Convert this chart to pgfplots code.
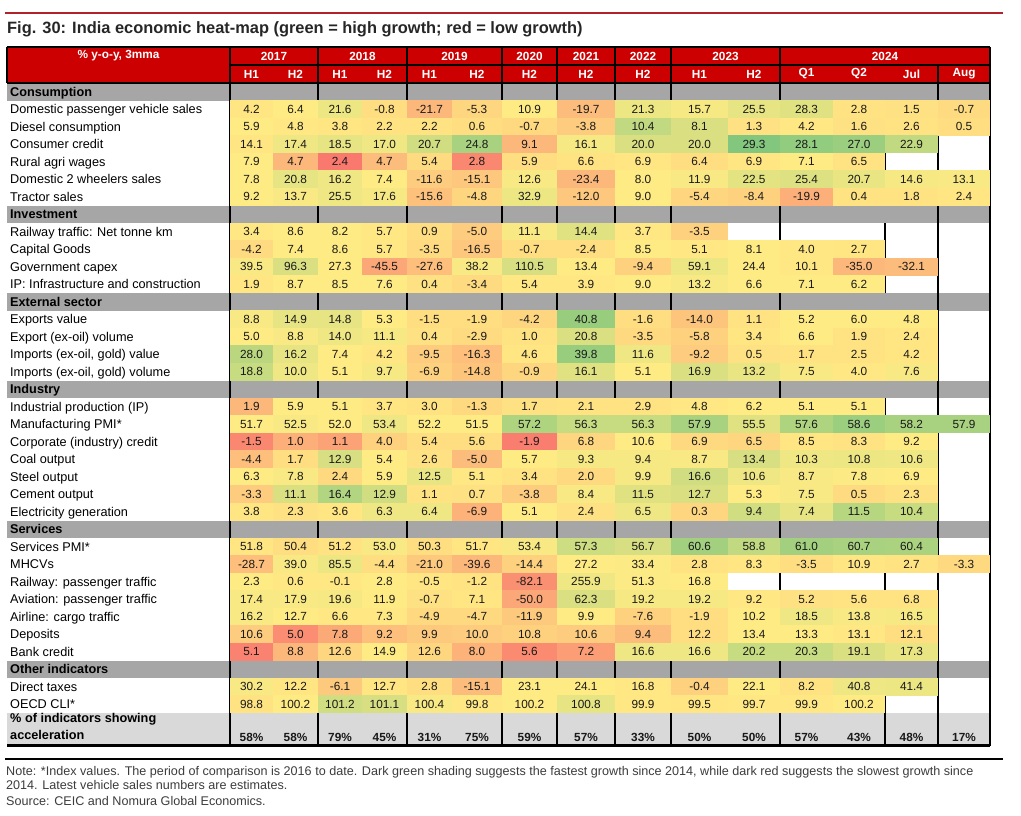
\documentclass[border=0pt]{standalone}
\usepackage{pgfplots}
\pgfplotsset{compat=1.18}
\usepackage{pgfplotstable}
\usepackage{fontspec}
\setmainfont{Liberation Sans}
\definecolor{hdrred}{RGB}{204,0,0}
\definecolor{band}{RGB}{166,166,166}
\definecolor{accgray}{RGB}{217,217,217}
\definecolor{rulered}{RGB}{178,34,44}
\definecolor{numtxt}{RGB}{25,25,25}
\definecolor{titlegray}{RGB}{38,38,38}
\definecolor{notegray}{RGB}{60,60,60}
\pgfdeclareplotmark{cell}{%
  \pgfsetfillcolor{mapped color}%
  \pgfpathrectangle{\pgfpoint{-\hw pt-0.3pt}{-9.05pt}}{\pgfpoint{2*\hw pt+0.6pt}{18.1pt}}%
  \pgfusepathqfill}
\newcommand{\numfont}{\fontsize{11.8}{14}\selectfont}

% x = column centre (px), y = row centre (px), w = half cell width, c = colour (0 red, .5 yellow, 1 green), v = value
\pgfplotstableread{
x y w c v
251.5 109.25 21.5 .48 4.2
295.5 109.25 22.5 .50 6.4
340 109.25 22 .56 21.6
384.5 109.25 22.5 .45 -0.8
429.5 109.25 22.5 .30 -21.7
477 109.25 25 .42 -5.3
529.5 109.25 27.5 .50 10.9
586 109.25 29 .32 -19.7
643 109.25 28 .56 21.3
699.5 109.25 28.5 .53 15.7
754 109.25 26 .58 25.5
806.5 109.25 26.5 .60 28.3
859 109.25 26 .47 2.8
911.5 109.25 26.5 .46 1.5
964 109.25 26 .44 -0.7
251.5 126.75 21.5 .50 5.9
295.5 126.75 22.5 .49 4.8
340 126.75 22 .48 3.8
384.5 126.75 22.5 .47 2.2
429.5 126.75 22.5 .47 2.2
477 126.75 25 .45 0.6
529.5 126.75 27.5 .43 -0.7
586 126.75 29 .38 -3.8
643 126.75 28 .70 10.4
699.5 126.75 28.5 .62 8.1
754 126.75 26 .46 1.3
806.5 126.75 26.5 .49 4.2
859 126.75 26 .46 1.6
911.5 126.75 26.5 .47 2.6
964 126.75 26 .45 0.5
251.5 144.25 21.5 .48 14.1
295.5 144.25 22.5 .55 17.4
340 144.25 22 .58 18.5
384.5 144.25 22.5 .55 17.0
429.5 144.25 22.5 .65 20.7
477 144.25 25 .78 24.8
529.5 144.25 27.5 .30 9.1
586 144.25 29 .53 16.1
643 144.25 28 .62 20.0
699.5 144.25 28.5 .62 20.0
754 144.25 26 .90 29.3
806.5 144.25 26.5 .85 28.1
859 144.25 26 .82 27.0
911.5 144.25 26.5 .70 22.9
251.5 161.75 21.5 .50 7.9
295.5 161.75 22.5 .30 4.7
340 161.75 22 .06 2.4
384.5 161.75 22.5 .32 4.7
429.5 161.75 22.5 .44 5.4
477 161.75 25 .12 2.8
529.5 161.75 27.5 .45 5.9
586 161.75 29 .47 6.6
643 161.75 28 .48 6.9
699.5 161.75 28.5 .45 6.4
754 161.75 26 .48 6.9
806.5 161.75 26.5 .50 7.1
859 161.75 26 .47 6.5
251.5 179.25 21.5 .50 7.8
295.5 179.25 22.5 .58 20.8
340 179.25 22 .55 16.2
384.5 179.25 22.5 .50 7.4
429.5 179.25 22.5 .38 -11.6
477 179.25 25 .36 -15.1
529.5 179.25 27.5 .52 12.6
586 179.25 29 .30 -23.4
643 179.25 28 .50 8.0
699.5 179.25 28.5 .52 11.9
754 179.25 26 .59 22.5
806.5 179.25 26.5 .61 25.4
859 179.25 26 .57 20.7
911.5 179.25 26.5 .53 14.6
964 179.25 26 .52 13.1
251.5 196.75 21.5 .50 9.2
295.5 196.75 22.5 .52 13.7
340 196.75 22 .55 25.5
384.5 196.75 22.5 .53 17.6
429.5 196.75 22.5 .34 -15.6
477 196.75 25 .42 -4.8
529.5 196.75 27.5 .56 32.9
586 196.75 29 .36 -12.0
643 196.75 28 .50 9.0
699.5 196.75 28.5 .42 -5.4
754 196.75 26 .40 -8.4
806.5 196.75 26.5 .27 -19.9
859 196.75 26 .47 0.4
911.5 196.75 26.5 .47 1.8
964 196.75 26 .48 2.4
251.5 231.75 21.5 .49 3.4
295.5 231.75 22.5 .50 8.6
340 231.75 22 .50 8.2
384.5 231.75 22.5 .49 5.7
429.5 231.75 22.5 .45 0.9
477 231.75 25 .38 -5.0
529.5 231.75 27.5 .52 11.1
586 231.75 29 .60 14.4
643 231.75 28 .49 3.7
699.5 231.75 28.5 .40 -3.5
251.5 249.25 21.5 .44 -4.2
295.5 249.25 22.5 .50 7.4
340 249.25 22 .50 8.6
384.5 249.25 22.5 .49 5.7
429.5 249.25 22.5 .44 -3.5
477 249.25 25 .36 -16.5
529.5 249.25 27.5 .45 -0.7
586 249.25 29 .45 -2.4
643 249.25 28 .50 8.5
699.5 249.25 28.5 .49 5.1
754 249.25 26 .50 8.1
806.5 249.25 26.5 .49 4.0
859 249.25 26 .48 2.7
251.5 266.75 21.5 .52 39.5
295.5 266.75 22.5 .62 96.3
340 266.75 22 .50 27.3
384.5 266.75 22.5 .24 -45.5
429.5 266.75 22.5 .33 -27.6
477 266.75 25 .52 38.2
529.5 266.75 27.5 .63 110.5
586 266.75 29 .50 13.4
643 266.75 28 .40 -9.4
699.5 266.75 28.5 .56 59.1
754 266.75 26 .50 24.4
806.5 266.75 26.5 .49 10.1
859 266.75 26 .30 -35.0
911.5 266.75 26.5 .32 -32.1
251.5 284.25 21.5 .48 1.9
295.5 284.25 22.5 .50 8.7
340 284.25 22 .50 8.5
384.5 284.25 22.5 .50 7.6
429.5 284.25 22.5 .46 0.4
477 284.25 25 .44 -3.4
529.5 284.25 27.5 .49 5.4
586 284.25 29 .49 3.9
643 284.25 28 .50 9.0
699.5 284.25 28.5 .52 13.2
754 284.25 26 .50 6.6
806.5 284.25 26.5 .50 7.1
859 284.25 26 .50 6.2
251.5 319.25 21.5 .52 8.8
295.5 319.25 22.5 .58 14.9
340 319.25 22 .58 14.8
384.5 319.25 22.5 .50 5.3
429.5 319.25 22.5 .45 -1.5
477 319.25 25 .45 -1.9
529.5 319.25 27.5 .42 -4.2
586 319.25 29 .83 40.8
643 319.25 28 .45 -1.6
699.5 319.25 28.5 .35 -14.0
754 319.25 26 .47 1.1
806.5 319.25 26.5 .50 5.2
859 319.25 26 .50 6.0
911.5 319.25 26.5 .50 4.8
251.5 336.75 21.5 .50 5.0
295.5 336.75 22.5 .52 8.8
340 336.75 22 .55 14.0
384.5 336.75 22.5 .53 11.1
429.5 336.75 22.5 .46 0.4
477 336.75 25 .44 -2.9
529.5 336.75 27.5 .47 1.0
586 336.75 29 .62 20.8
643 336.75 28 .43 -3.5
699.5 336.75 28.5 .40 -5.8
754 336.75 26 .48 3.4
806.5 336.75 26.5 .50 6.6
859 336.75 26 .47 1.9
911.5 336.75 26.5 .48 2.4
251.5 354.25 21.5 .72 28.0
295.5 354.25 22.5 .58 16.2
340 354.25 22 .50 7.4
384.5 354.25 22.5 .48 4.2
429.5 354.25 22.5 .38 -9.5
477 354.25 25 .33 -16.3
529.5 354.25 27.5 .48 4.6
586 354.25 29 .83 39.8
643 354.25 28 .55 11.6
699.5 354.25 28.5 .38 -9.2
754 354.25 26 .46 0.5
806.5 354.25 26.5 .47 1.7
859 354.25 26 .47 2.5
911.5 354.25 26.5 .48 4.2
251.5 371.75 21.5 .68 18.8
295.5 371.75 22.5 .55 10.0
340 371.75 22 .50 5.1
384.5 371.75 22.5 .53 9.7
429.5 371.75 22.5 .40 -6.9
477 371.75 25 .35 -14.8
529.5 371.75 27.5 .42 -0.9
586 371.75 29 .60 16.1
643 371.75 28 .50 5.1
699.5 371.75 28.5 .62 16.9
754 371.75 26 .57 13.2
806.5 371.75 26.5 .52 7.5
859 371.75 26 .49 4.0
911.5 371.75 26.5 .52 7.6
251.5 406.75 21.5 .30 1.9
295.5 406.75 22.5 .50 5.9
340 406.75 22 .50 5.1
384.5 406.75 22.5 .48 3.7
429.5 406.75 22.5 .47 3.0
477 406.75 25 .43 -1.3
529.5 406.75 27.5 .46 1.7
586 406.75 29 .47 2.1
643 406.75 28 .47 2.9
699.5 406.75 28.5 .49 4.8
754 406.75 26 .50 6.2
806.5 406.75 26.5 .50 5.1
859 406.75 26 .50 5.1
251.5 424.25 21.5 .50 51.7
295.5 424.25 22.5 .52 52.5
340 424.25 22 .50 52.0
384.5 424.25 22.5 .55 53.4
429.5 424.25 22.5 .50 52.2
477 424.25 25 .50 51.5
529.5 424.25 27.5 .76 57.2
586 424.25 29 .68 56.3
643 424.25 28 .68 56.3
699.5 424.25 28.5 .78 57.9
754 424.25 26 .60 55.5
806.5 424.25 26.5 .76 57.6
859 424.25 26 .82 58.6
911.5 424.25 26.5 .78 58.2
964 424.25 26 .78 57.9
251.5 441.75 21.5 .12 -1.5
295.5 441.75 22.5 .27 1.0
340 441.75 22 .22 1.1
384.5 441.75 22.5 .40 4.0
429.5 441.75 22.5 .45 5.4
477 441.75 25 .45 5.6
529.5 441.75 27.5 .08 -1.9
586 441.75 29 .42 6.8
643 441.75 28 .50 10.6
699.5 441.75 28.5 .43 6.9
754 441.75 26 .42 6.5
806.5 441.75 26.5 .48 8.5
859 441.75 26 .47 8.3
911.5 441.75 26.5 .50 9.2
251.5 459.25 21.5 .33 -4.4
295.5 459.25 22.5 .45 1.7
340 459.25 22 .63 12.9
384.5 459.25 22.5 .50 5.4
429.5 459.25 22.5 .46 2.6
477 459.25 25 .32 -5.0
529.5 459.25 27.5 .50 5.7
586 459.25 29 .53 9.3
643 459.25 28 .53 9.4
699.5 459.25 28.5 .52 8.7
754 459.25 26 .63 13.4
806.5 459.25 26.5 .55 10.3
859 459.25 26 .56 10.8
911.5 459.25 26.5 .55 10.6
251.5 476.75 21.5 .50 6.3
295.5 476.75 22.5 .52 7.8
340 476.75 22 .43 2.4
384.5 476.75 22.5 .50 5.9
429.5 476.75 22.5 .57 12.5
477 476.75 25 .49 5.1
529.5 476.75 27.5 .47 3.4
586 476.75 29 .43 2.0
643 476.75 28 .53 9.9
699.5 476.75 28.5 .65 16.6
754 476.75 26 .55 10.6
806.5 476.75 26.5 .52 8.7
859 476.75 26 .51 7.8
911.5 476.75 26.5 .50 6.9
251.5 494.25 21.5 .38 -3.3
295.5 494.25 22.5 .62 11.1
340 494.25 22 .75 16.4
384.5 494.25 22.5 .65 12.9
429.5 494.25 22.5 .47 1.1
477 494.25 25 .46 0.7
529.5 494.25 27.5 .38 -3.8
586 494.25 29 .52 8.4
643 494.25 28 .60 11.5
699.5 494.25 28.5 .62 12.7
754 494.25 26 .50 5.3
806.5 494.25 26.5 .52 7.5
859 494.25 26 .44 0.5
911.5 494.25 26.5 .46 2.3
251.5 511.75 21.5 .48 3.8
295.5 511.75 22.5 .46 2.3
340 511.75 22 .48 3.6
384.5 511.75 22.5 .55 6.3
429.5 511.75 22.5 .55 6.4
477 511.75 25 .28 -6.9
529.5 511.75 27.5 .50 5.1
586 511.75 29 .46 2.4
643 511.75 28 .55 6.5
699.5 511.75 28.5 .42 0.3
754 511.75 26 .65 9.4
806.5 511.75 26.5 .58 7.4
859 511.75 26 .73 11.5
911.5 511.75 26.5 .68 10.4
251.5 546.75 21.5 .48 51.8
295.5 546.75 22.5 .45 50.4
340 546.75 22 .47 51.2
384.5 546.75 22.5 .52 53.0
429.5 546.75 22.5 .45 50.3
477 546.75 25 .48 51.7
529.5 546.75 27.5 .52 53.4
586 546.75 29 .66 57.3
643 546.75 28 .63 56.7
699.5 546.75 28.5 .80 60.6
754 546.75 26 .70 58.8
806.5 546.75 26.5 .80 61.0
859 546.75 26 .78 60.7
911.5 546.75 26.5 .77 60.4
251.5 564.25 21.5 .33 -28.7
295.5 564.25 22.5 .52 39.0
340 564.25 22 .56 85.5
384.5 564.25 22.5 .45 -4.4
429.5 564.25 22.5 .37 -21.0
477 564.25 25 .30 -39.6
529.5 564.25 27.5 .40 -14.4
586 564.25 29 .50 27.2
643 564.25 28 .51 33.4
699.5 564.25 28.5 .47 2.8
754 564.25 26 .48 8.3
806.5 564.25 26.5 .45 -3.5
859 564.25 26 .48 10.9
911.5 564.25 26.5 .47 2.7
964 564.25 26 .43 -3.3
251.5 581.75 21.5 .50 2.3
295.5 581.75 22.5 .49 0.6
340 581.75 22 .49 -0.1
384.5 581.75 22.5 .50 2.8
429.5 581.75 22.5 .48 -0.5
477 581.75 25 .47 -1.2
529.5 581.75 27.5 .15 -82.1
586 581.75 29 .55 255.9
643 581.75 28 .51 51.3
699.5 581.75 28.5 .50 16.8
251.5 599.25 21.5 .52 17.4
295.5 599.25 22.5 .52 17.9
340 599.25 22 .53 19.6
384.5 599.25 22.5 .50 11.9
429.5 599.25 22.5 .46 -0.7
477 599.25 25 .48 7.1
529.5 599.25 27.5 .24 -50.0
586 599.25 29 .62 62.3
643 599.25 28 .53 19.2
699.5 599.25 28.5 .53 19.2
754 599.25 26 .49 9.2
806.5 599.25 26.5 .46 5.2
859 599.25 26 .47 5.6
911.5 599.25 26.5 .47 6.8
251.5 616.75 21.5 .52 16.2
295.5 616.75 22.5 .50 12.7
340 616.75 22 .49 6.6
384.5 616.75 22.5 .49 7.3
429.5 616.75 22.5 .43 -4.9
477 616.75 25 .43 -4.7
529.5 616.75 27.5 .37 -11.9
586 616.75 29 .50 9.9
643 616.75 28 .40 -7.6
699.5 616.75 28.5 .45 -1.9
754 616.75 26 .50 10.2
806.5 616.75 26.5 .55 18.5
859 616.75 26 .52 13.8
911.5 616.75 26.5 .53 16.5
251.5 634.25 21.5 .38 10.6
295.5 634.25 22.5 .14 5.0
340 634.25 22 .25 7.8
384.5 634.25 22.5 .33 9.2
429.5 634.25 22.5 .37 9.9
477 634.25 25 .38 10.0
529.5 634.25 27.5 .40 10.8
586 634.25 29 .38 10.6
643 634.25 28 .32 9.4
699.5 634.25 28.5 .45 12.2
754 634.25 26 .50 13.4
806.5 634.25 26.5 .50 13.3
859 634.25 26 .49 13.1
911.5 634.25 26.5 .45 12.1
251.5 651.75 21.5 .10 5.1
295.5 651.75 22.5 .30 8.8
340 651.75 22 .42 12.6
384.5 651.75 22.5 .50 14.9
429.5 651.75 22.5 .42 12.6
477 651.75 25 .28 8.0
529.5 651.75 27.5 .13 5.6
586 651.75 29 .20 7.2
643 651.75 28 .55 16.6
699.5 651.75 28.5 .55 16.6
754 651.75 26 .68 20.2
806.5 651.75 26.5 .68 20.3
859 651.75 26 .62 19.1
911.5 651.75 26.5 .57 17.3
251.5 686.75 21.5 .52 30.2
295.5 686.75 22.5 .48 12.2
340 686.75 22 .37 -6.1
384.5 686.75 22.5 .48 12.7
429.5 686.75 22.5 .45 2.8
477 686.75 25 .32 -15.1
529.5 686.75 27.5 .50 23.1
586 686.75 29 .50 24.1
643 686.75 28 .49 16.8
699.5 686.75 28.5 .40 -0.4
754 686.75 26 .50 22.1
806.5 686.75 26.5 .47 8.2
859 686.75 26 .55 40.8
911.5 686.75 26.5 .56 41.4
251.5 704.25 21.5 .47 98.8
295.5 704.25 22.5 .50 100.2
340 704.25 22 .65 101.2
384.5 704.25 22.5 .63 101.1
429.5 704.25 22.5 .52 100.4
477 704.25 25 .49 99.8
529.5 704.25 27.5 .50 100.2
586 704.25 29 .58 100.8
643 704.25 28 .49 99.9
699.5 704.25 28.5 .48 99.5
754 704.25 26 .49 99.7
806.5 704.25 26.5 .49 99.9
859 704.25 26 .50 100.2
}\celltab

\pgfplotstableread{
x p
251.5 58
295.5 58
340 79
384.5 45
429.5 31
477 75
529.5 59
586 57
643 33
699.5 50
754 50
806.5 57
859 43
911.5 48
964 17
}\acctab

\begin{document}
\begin{tikzpicture}
\useasboundingbox (0,0) rectangle (1021pt,815pt);
\begin{axis}[
  at={(0,0)}, anchor=south west,
  scale only axis, width=1021pt, height=815pt,
  xmin=0, xmax=1021, ymin=0, ymax=815, y dir=reverse,
  clip=false, axis on top,
  axis line style={draw=none},
  major tick length=0pt, tick style={draw=none},
  colormap={heat}{rgb255=(248,105,107) rgb255=(255,235,132) rgb255=(99,190,123)},
  point meta min=0, point meta max=1,
  xtick={251.5,295.5,340,384.5,429.5,477,529.5,586,643,699.5,754,806.5,859,911.5,964},
  xticklabels={H1,H2,H1,H2,H1,H2,H2,H2,H2,H1,H2,Q1,Q2,Jul,Aug},
  extra x ticks={274,362.5,454.5,529.5,586,643,725.5,885},
  extra x tick labels={2017,2018,2019,2020,2021,2022,2023,2024},
  extra x tick style={xticklabel style={yshift=18pt}},
  xticklabel style={font=\bfseries\fontsize{11.8}{14}\selectfont, text=white, anchor=center, inner sep=0pt, yshift=741pt},
  ytick={91.75,109.25,126.75,144.25,161.75,179.25,196.75,214.25,231.75,249.25,266.75,284.25,301.75,319.25,336.75,354.25,371.75,389.25,406.75,424.25,441.75,459.25,476.75,494.25,511.75,529.25,546.75,564.25,581.75,599.25,616.75,634.25,651.75,669.25,686.75,704.25,718,734.5},
  yticklabels={\textbf{Consumption},Domestic passenger vehicle sales,Diesel consumption,Consumer credit,Rural agri wages,Domestic 2 wheelers sales,Tractor sales,\textbf{Investment},Railway traffic: Net tonne km,Capital Goods,Government capex,IP: Infrastructure and construction,\textbf{External sector},Exports value,Export (ex-oil) volume,{Imports (ex-oil, gold) value},{Imports (ex-oil, gold) volume},\textbf{Industry},Industrial production (IP),Manufacturing PMI*,Corporate (industry) credit,Coal output,Steel output,Cement output,Electricity generation,\textbf{Services},Services PMI*,MHCVs,Railway: passenger traffic,Aviation: passenger traffic,Airline: cargo traffic,Deposits,Bank credit,\textbf{Other indicators},Direct taxes,OECD CLI*,\textbf{\% of indicators showing},\textbf{acceleration}},
  yticklabel style={font=\fontsize{12.7}{15}\selectfont, text=black, anchor=base west, inner sep=0pt, xshift=10pt, yshift=-4.5pt},
]
% backgrounds
\fill[hdrred] (axis cs:7,47) rectangle (axis cs:990,83);
\fill[band] (axis cs:7,83) rectangle (axis cs:990,100.5);
\fill[band] (axis cs:7,205.5) rectangle (axis cs:990,223);
\fill[band] (axis cs:7,293) rectangle (axis cs:990,310.5);
\fill[band] (axis cs:7,380.5) rectangle (axis cs:990,398);
\fill[band] (axis cs:7,520.5) rectangle (axis cs:990,538);
\fill[band] (axis cs:7,660.5) rectangle (axis cs:990,678);
\fill[accgray] (axis cs:7,713) rectangle (axis cs:990,746);

% heat-map cells
\addplot[scatter, only marks, mark=cell, point meta=explicit,
  visualization depends on={\thisrow{w}\as\hw}]
  table[x=x, y=y, meta=c] {\celltab};
% cell values
\addplot[only marks, mark=none, point meta=explicit symbolic,
  nodes near coords={\pgfplotspointmeta},
  every node near coord/.append style={anchor=center, inner sep=0pt, text=numtxt, font=\numfont}]
  table[x=x, y=y, meta=v] {\celltab};
% acceleration percentages
\addplot[only marks, mark=none, point meta=explicit symbolic,
  nodes near coords={\pgfplotspointmeta\%},
  every node near coord/.append style={anchor=center, inner sep=0pt, text=numtxt, font=\bfseries\numfont}]
  table[x=x, y expr=737, meta=p] {\acctab};

% header text
\node[anchor=center, inner sep=0pt, text=white, font=\bfseries\fontsize{11.8}{14}\selectfont] at (axis cs:118.5,56) {\% y-o-y, 3mma};

% lines
\draw[rulered, line width=2pt] (axis cs:5,12.7) -- (axis cs:1003,12.7);
\draw[black, line width=2pt] (axis cs:5,758.5) -- (axis cs:1003,758.5);
\draw[black, line width=2.5pt] (axis cs:7,745.5) -- (axis cs:990,745.5);
\draw[black, line width=1.2pt] (axis cs:7,47) -- (axis cs:990,47);
\draw[black, line width=1.2pt] (axis cs:230,65) -- (axis cs:990,65);
\draw[black, line width=1.2pt] (axis cs:7,83) -- (axis cs:990,83);
\draw[black, line width=1.2pt] (axis cs:7,47) -- (axis cs:7,83);
\pgfplotsinvokeforeach{230,318,407,502,557,615,671,780,990}{
  \draw[black, line width=2pt] (axis cs:#1,47) -- (axis cs:#1,746);
}
\draw[black, line width=2pt] (axis cs:938,65) -- (axis cs:938,746);
\draw[black, line width=2pt] (axis cs:885,100.5) -- (axis cs:885,205.5);
\draw[black, line width=2pt] (axis cs:885,223) -- (axis cs:885,293);
\draw[black, line width=2pt] (axis cs:885,310.5) -- (axis cs:885,380.5);
\draw[black, line width=2pt] (axis cs:885,398) -- (axis cs:885,520.5);
\draw[black, line width=2pt] (axis cs:885,538) -- (axis cs:885,660.5);
\draw[black, line width=2pt] (axis cs:885,678) -- (axis cs:885,746);

% title and notes
\node[anchor=base west, inner sep=0pt, text=titlegray, font=\bfseries\fontsize{16.4}{19}\selectfont] at (axis cs:7,33) {Fig. 30: India economic heat-map (green = high growth; red = low growth)};
\node[anchor=base west, inner sep=0pt, text=notegray, font=\fontsize{12.6}{15}\selectfont] at (axis cs:6,775.5) {Note: *Index values. The period of comparison is 2016 to date. Dark green shading suggests the fastest growth since 2014, while dark red suggests the slowest growth since};
\node[anchor=base west, inner sep=0pt, text=notegray, font=\fontsize{12.6}{15}\selectfont] at (axis cs:6,789.5) {2014. Latest vehicle sales numbers are estimates.};
\node[anchor=base west, inner sep=0pt, text=notegray, font=\fontsize{12.6}{15}\selectfont] at (axis cs:6,805.5) {Source: CEIC and Nomura Global Economics.};
\end{axis}
\end{tikzpicture}
\end{document}
